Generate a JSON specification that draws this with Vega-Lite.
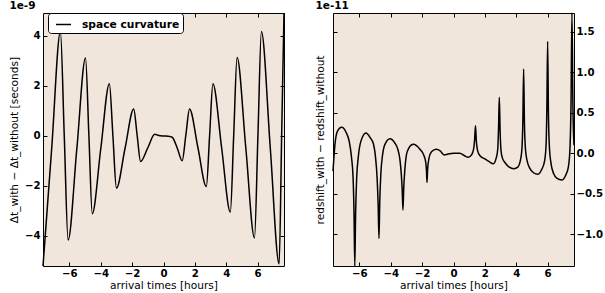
{
  "$schema": "https://vega.github.io/schema/vega-lite/v6.json",
  "padding": {"left": 8, "top": 0, "right": 0, "bottom": 0},
  "background": "white",
  "spacing": 27,
  "config": {
    "font": "DejaVu Sans",
    "view": {"stroke": "black", "strokeWidth": 1, "fill": "#f0e6db"},
    "axis": {
      "domain": false, "grid": false,
      "tickColor": "black", "tickWidth": 1, "tickSize": -4,
      "labelFont": "DejaVu Sans", "labelFontWeight": "bold", "labelFontSize": 10.2, "labelColor": "black",
      "labelPadding": 7, "labelFlush": false, "labelOverlap": false,
      "titleFont": "DejaVu Sans", "titleFontWeight": "normal", "titleFontSize": 10.6, "titleColor": "black"
    },
    "title": {"font": "DejaVu Sans", "fontSize": 10.5, "fontWeight": "bold", "color": "black", "anchor": "start", "offset": -1.5}
  },
  "datasets": {
    "left": [
      {"t": -7.68, "v": -5.2}, {"t": -7.125, "v": -0.5}, {"t": -6.57, "v": 4.15},
      {"t": -6.325, "v": 0.0}, {"t": -6.08, "v": -4.16}, {"t": -5.525, "v": -0.53},
      {"t": -4.97, "v": 3.1}, {"t": -4.755, "v": 0.0}, {"t": -4.54, "v": -3.11},
      {"t": -3.995, "v": -0.5}, {"t": -3.45, "v": 2.08}, {"t": -3.225, "v": 0.0},
      {"t": -3.0, "v": -2.09}, {"t": -2.45, "v": -0.5}, {"t": -1.9, "v": 1.07},
      {"t": -1.68, "v": 0.02}, {"t": -1.46, "v": -1.03}, {"t": -1.0, "v": -0.48},
      {"t": -0.56, "v": 0.06}, {"t": -0.3, "v": 0.01}, {"t": 0.0, "v": -0.01},
      {"t": 0.3, "v": -0.02}, {"t": 0.55, "v": -0.06}, {"t": 0.88, "v": -0.5},
      {"t": 1.19, "v": -1.0}, {"t": 1.425, "v": 0.03}, {"t": 1.66, "v": 1.07},
      {"t": 2.195, "v": -0.48}, {"t": 2.73, "v": -2.03}, {"t": 2.94, "v": 0.02},
      {"t": 3.15, "v": 2.08}, {"t": 3.705, "v": -0.48}, {"t": 4.26, "v": -3.05},
      {"t": 4.475, "v": 0.03}, {"t": 4.69, "v": 3.12}, {"t": 5.245, "v": -0.48},
      {"t": 5.8, "v": -4.08}, {"t": 6.02, "v": 0.04}, {"t": 6.24, "v": 4.16},
      {"t": 6.805, "v": -0.48}, {"t": 7.37, "v": -5.12}, {"t": 7.53, "v": 0.0},
      {"t": 7.68, "v": 4.9}
    ],
    "right": [
      {"t": -7.68, "v": -0.22}, {"t": -7.55, "v": 0.12}, {"t": -7.4, "v": 0.27},
      {"t": -7.13, "v": 0.32}, {"t": -6.85, "v": 0.26}, {"t": -6.65, "v": 0.15},
      {"t": -6.5, "v": -0.05}, {"t": -6.4, "v": -0.3}, {"t": -6.34, "v": -0.75},
      {"t": -6.29, "v": -1.39}, {"t": -6.24, "v": -0.75}, {"t": -6.17, "v": -0.3},
      {"t": -6.07, "v": -0.05}, {"t": -5.9, "v": 0.15}, {"t": -5.58, "v": 0.25},
      {"t": -5.3, "v": 0.19}, {"t": -5.11, "v": 0.12}, {"t": -4.97, "v": -0.05},
      {"t": -4.87, "v": -0.3}, {"t": -4.8, "v": -0.65}, {"t": -4.75, "v": -1.05},
      {"t": -4.7, "v": -0.6}, {"t": -4.63, "v": -0.25}, {"t": -4.52, "v": -0.02},
      {"t": -4.37, "v": 0.11}, {"t": -4.05, "v": 0.18}, {"t": -3.75, "v": 0.13},
      {"t": -3.55, "v": 0.05}, {"t": -3.42, "v": -0.07}, {"t": -3.33, "v": -0.25},
      {"t": -3.27, "v": -0.45}, {"t": -3.22, "v": -0.7}, {"t": -3.17, "v": -0.42},
      {"t": -3.1, "v": -0.2}, {"t": -3.0, "v": -0.02}, {"t": -2.86, "v": 0.06},
      {"t": -2.56, "v": 0.11}, {"t": -2.14, "v": 0.05}, {"t": -1.9, "v": -0.02},
      {"t": -1.78, "v": -0.1}, {"t": -1.72, "v": -0.22}, {"t": -1.69, "v": -0.36},
      {"t": -1.65, "v": -0.2}, {"t": -1.56, "v": -0.06}, {"t": -1.4, "v": 0.02},
      {"t": -1.1, "v": 0.05}, {"t": -0.85, "v": 0.03}, {"t": -0.6, "v": -0.02},
      {"t": -0.35, "v": -0.01}, {"t": 0.0, "v": 0.0}, {"t": 0.4, "v": 0.0},
      {"t": 0.7, "v": -0.03}, {"t": 0.94, "v": -0.05}, {"t": 1.15, "v": -0.02},
      {"t": 1.28, "v": 0.05}, {"t": 1.34, "v": 0.15}, {"t": 1.4, "v": 0.34},
      {"t": 1.46, "v": 0.14}, {"t": 1.54, "v": 0.03}, {"t": 1.69, "v": -0.03},
      {"t": 2.0, "v": -0.07}, {"t": 2.25, "v": -0.1}, {"t": 2.54, "v": -0.13},
      {"t": 2.72, "v": -0.06}, {"t": 2.82, "v": 0.05}, {"t": 2.87, "v": 0.3},
      {"t": 2.92, "v": 0.69}, {"t": 2.97, "v": 0.28}, {"t": 3.03, "v": 0.03},
      {"t": 3.12, "v": -0.06}, {"t": 3.3, "v": -0.12}, {"t": 3.55, "v": -0.17},
      {"t": 3.85, "v": -0.19}, {"t": 4.1, "v": -0.17}, {"t": 4.25, "v": -0.1},
      {"t": 4.36, "v": 0.05}, {"t": 4.42, "v": 0.4}, {"t": 4.47, "v": 1.04},
      {"t": 4.52, "v": 0.38}, {"t": 4.59, "v": 0.04}, {"t": 4.7, "v": -0.1},
      {"t": 4.85, "v": -0.18}, {"t": 5.1, "v": -0.24}, {"t": 5.37, "v": -0.26},
      {"t": 5.62, "v": -0.2}, {"t": 5.8, "v": -0.1}, {"t": 5.9, "v": 0.1},
      {"t": 5.95, "v": 0.55}, {"t": 6.0, "v": 1.38}, {"t": 6.05, "v": 0.5},
      {"t": 6.12, "v": 0.05}, {"t": 6.22, "v": -0.13}, {"t": 6.38, "v": -0.25},
      {"t": 6.6, "v": -0.31}, {"t": 6.9, "v": -0.33}, {"t": 7.15, "v": -0.27},
      {"t": 7.32, "v": -0.17}, {"t": 7.42, "v": 0.05}, {"t": 7.49, "v": 0.6},
      {"t": 7.55, "v": 1.73}, {"t": 7.61, "v": 0.6}, {"t": 7.68, "v": 0.1}
    ]
  },
  "hconcat": [
    {
      "width": 241, "height": 253,
      "title": {"text": "1e-9"},
      "data": {"name": "left"},
      "layer": [
        {
          "mark": {"type": "line", "interpolate": "monotone", "strokeWidth": 1.5},
          "encoding": {
            "x": {"field": "t", "type": "quantitative",
              "scale": {"domain": [-7.68, 7.68], "nice": false, "zero": false},
              "axis": {"orient": "bottom", "values": [-6, -4, -2, 0, 2, 4, 6], "title": "arrival times [hours]", "titlePadding": 2, "labelPadding": 6}},
            "y": {"field": "v", "type": "quantitative",
              "scale": {"domain": [-5.2, 4.9], "nice": false, "zero": false},
              "axis": {"orient": "left", "values": [-4, -2, 0, 2, 4], "format": "d", "title": "Δt_with − Δt_without   [seconds]", "titlePadding": 5}},
            "color": {"datum": "space curvature", "type": "nominal",
              "scale": {"range": ["black"]},
              "legend": {"title": null, "orient": "none", "legendX": 5, "legendY": 0,
                "fillColor": "white", "strokeColor": "black", "cornerRadius": 3, "padding": 3,
                "symbolType": "stroke", "symbolSize": 225, "symbolStrokeWidth": 1.5, "symbolStrokeColor": "black",
                "symbolOffset": 4, "labelOffset": 10,
                "labelFont": "DejaVu Sans", "labelFontWeight": "bold", "labelFontSize": 10.7, "labelColor": "black"}}
          }
        },
        {
          "mark": {"type": "line", "interpolate": "monotone", "strokeOpacity": 0},
          "encoding": {
            "x": {"field": "t", "type": "quantitative",
              "axis": {"orient": "top", "values": [-6, -4, -2, 0, 2, 4, 6], "labels": false, "title": null}},
            "y": {"field": "v", "type": "quantitative",
              "axis": {"orient": "right", "values": [-4, -2, 0, 2, 4], "labels": false, "title": null}}
          }
        }
      ],
      "resolve": {"axis": {"x": "independent", "y": "independent"}}
    },
    {
      "width": 241, "height": 253,
      "title": {"text": "1e-11"},
      "data": {"name": "right"},
      "layer": [
        {
          "mark": {"type": "line", "interpolate": "monotone", "strokeWidth": 1.5, "color": "black"},
          "encoding": {
            "x": {"field": "t", "type": "quantitative",
              "scale": {"domain": [-7.68, 7.68], "nice": false, "zero": false},
              "axis": {"orient": "bottom", "values": [-6, -4, -2, 0, 2, 4, 6], "title": "arrival times [hours]", "titlePadding": 2, "labelPadding": 6}},
            "y": {"field": "v", "type": "quantitative",
              "scale": {"domain": [-1.39, 1.73], "nice": false, "zero": false},
              "axis": {"orient": "left", "values": [-1, -0.5, 0, 0.5, 1, 1.5], "labels": false, "title": "redshift_with − redshift_without", "titlePadding": 7}}
          }
        },
        {
          "mark": {"type": "line", "interpolate": "monotone", "strokeOpacity": 0},
          "encoding": {
            "x": {"field": "t", "type": "quantitative",
              "axis": {"orient": "top", "values": [-6, -4, -2, 0, 2, 4, 6], "labels": false, "title": null}},
            "y": {"field": "v", "type": "quantitative",
              "axis": {"orient": "right", "values": [-1, -0.5, 0, 0.5, 1, 1.5], "format": ".1f", "title": null, "labelPadding": 6}}
          }
        }
      ],
      "resolve": {"axis": {"x": "independent", "y": "independent"}}
    }
  ],
  "resolve": {"scale": {"color": "independent"}, "legend": {"color": "independent"}}
}
